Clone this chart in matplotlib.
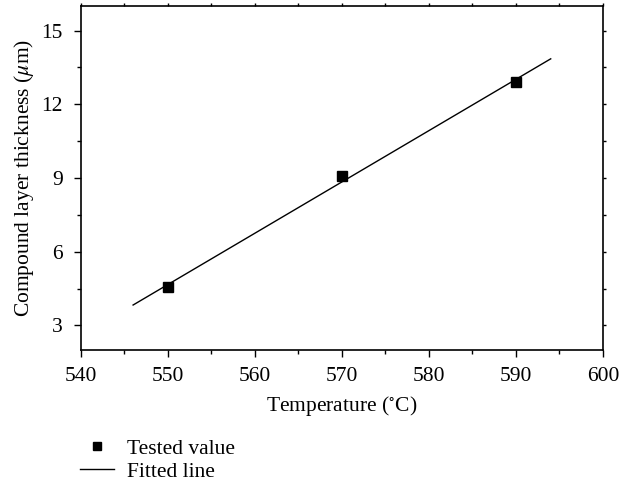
import matplotlib
matplotlib.use("Agg")
import matplotlib.pyplot as plt
from matplotlib.ticker import MultipleLocator

plt.rcParams['font.family'] = ['Liberation Serif', 'DejaVu Serif']
plt.rcParams['mathtext.fontset'] = 'stix'

temps = [550, 570, 590]
thickness = [4.55, 9.08, 12.9]
fit_x = [546, 594]
fit_y = [3.83, 13.85]

FS = 15.5

fig = plt.figure(figsize=(6.32, 4.83), dpi=100)
ax = fig.add_axes([0.128, 0.2754, 0.826, 0.7122])

ax.plot(fit_x, fit_y, color='black', lw=1.0, label='Fitted line')
ax.plot(temps, thickness, 's', color='black', ms=7.8, label='Tested value', linestyle='none')

ax.set_xlim(540, 600)
ax.set_ylim(2, 16)
ax.xaxis.set_major_locator(MultipleLocator(10))
ax.xaxis.set_minor_locator(MultipleLocator(5))
ax.yaxis.set_minor_locator(MultipleLocator(1.5))
ax.set_yticks([3, 6, 9, 12, 15])

ax.tick_params(which='major', direction='out', length=5, width=1.0, labelsize=FS)
ax.tick_params(which='minor', direction='out', length=3, width=1.0)
ax.tick_params(axis='x', which='major', pad=7)
ax.tick_params(axis='y', which='major', pad=8)
ax.tick_params(which='both', top=True, right=True, labeltop=False, labelright=False)
for tick in ax.xaxis.get_major_ticks() + ax.xaxis.get_minor_ticks():
    tick.tick2line.set_markersize(2)
for tick in ax.yaxis.get_major_ticks() + ax.yaxis.get_minor_ticks():
    tick.tick2line.set_markersize(2)

for s in ax.spines.values():
    s.set_linewidth(1.2)

ax.set_xlabel('Temperature ($^{\\circ}$C)', fontsize=FS, labelpad=6)
ax.set_ylabel('Compound layer thickness ($\\mu$m)', fontsize=FS, labelpad=4)

h1, l1 = ax.get_legend_handles_labels()
handles = [h1[1], h1[0]]
labels = [l1[1], l1[0]]
fig.legend(handles, labels, loc='upper left', bbox_to_anchor=(0.113, 0.11), frameon=False,
           fontsize=FS, handlelength=1.6, handletextpad=0.6, borderaxespad=0, labelspacing=0.15,
           markerscale=0.7)

fig.savefig('out.png', dpi=100)
